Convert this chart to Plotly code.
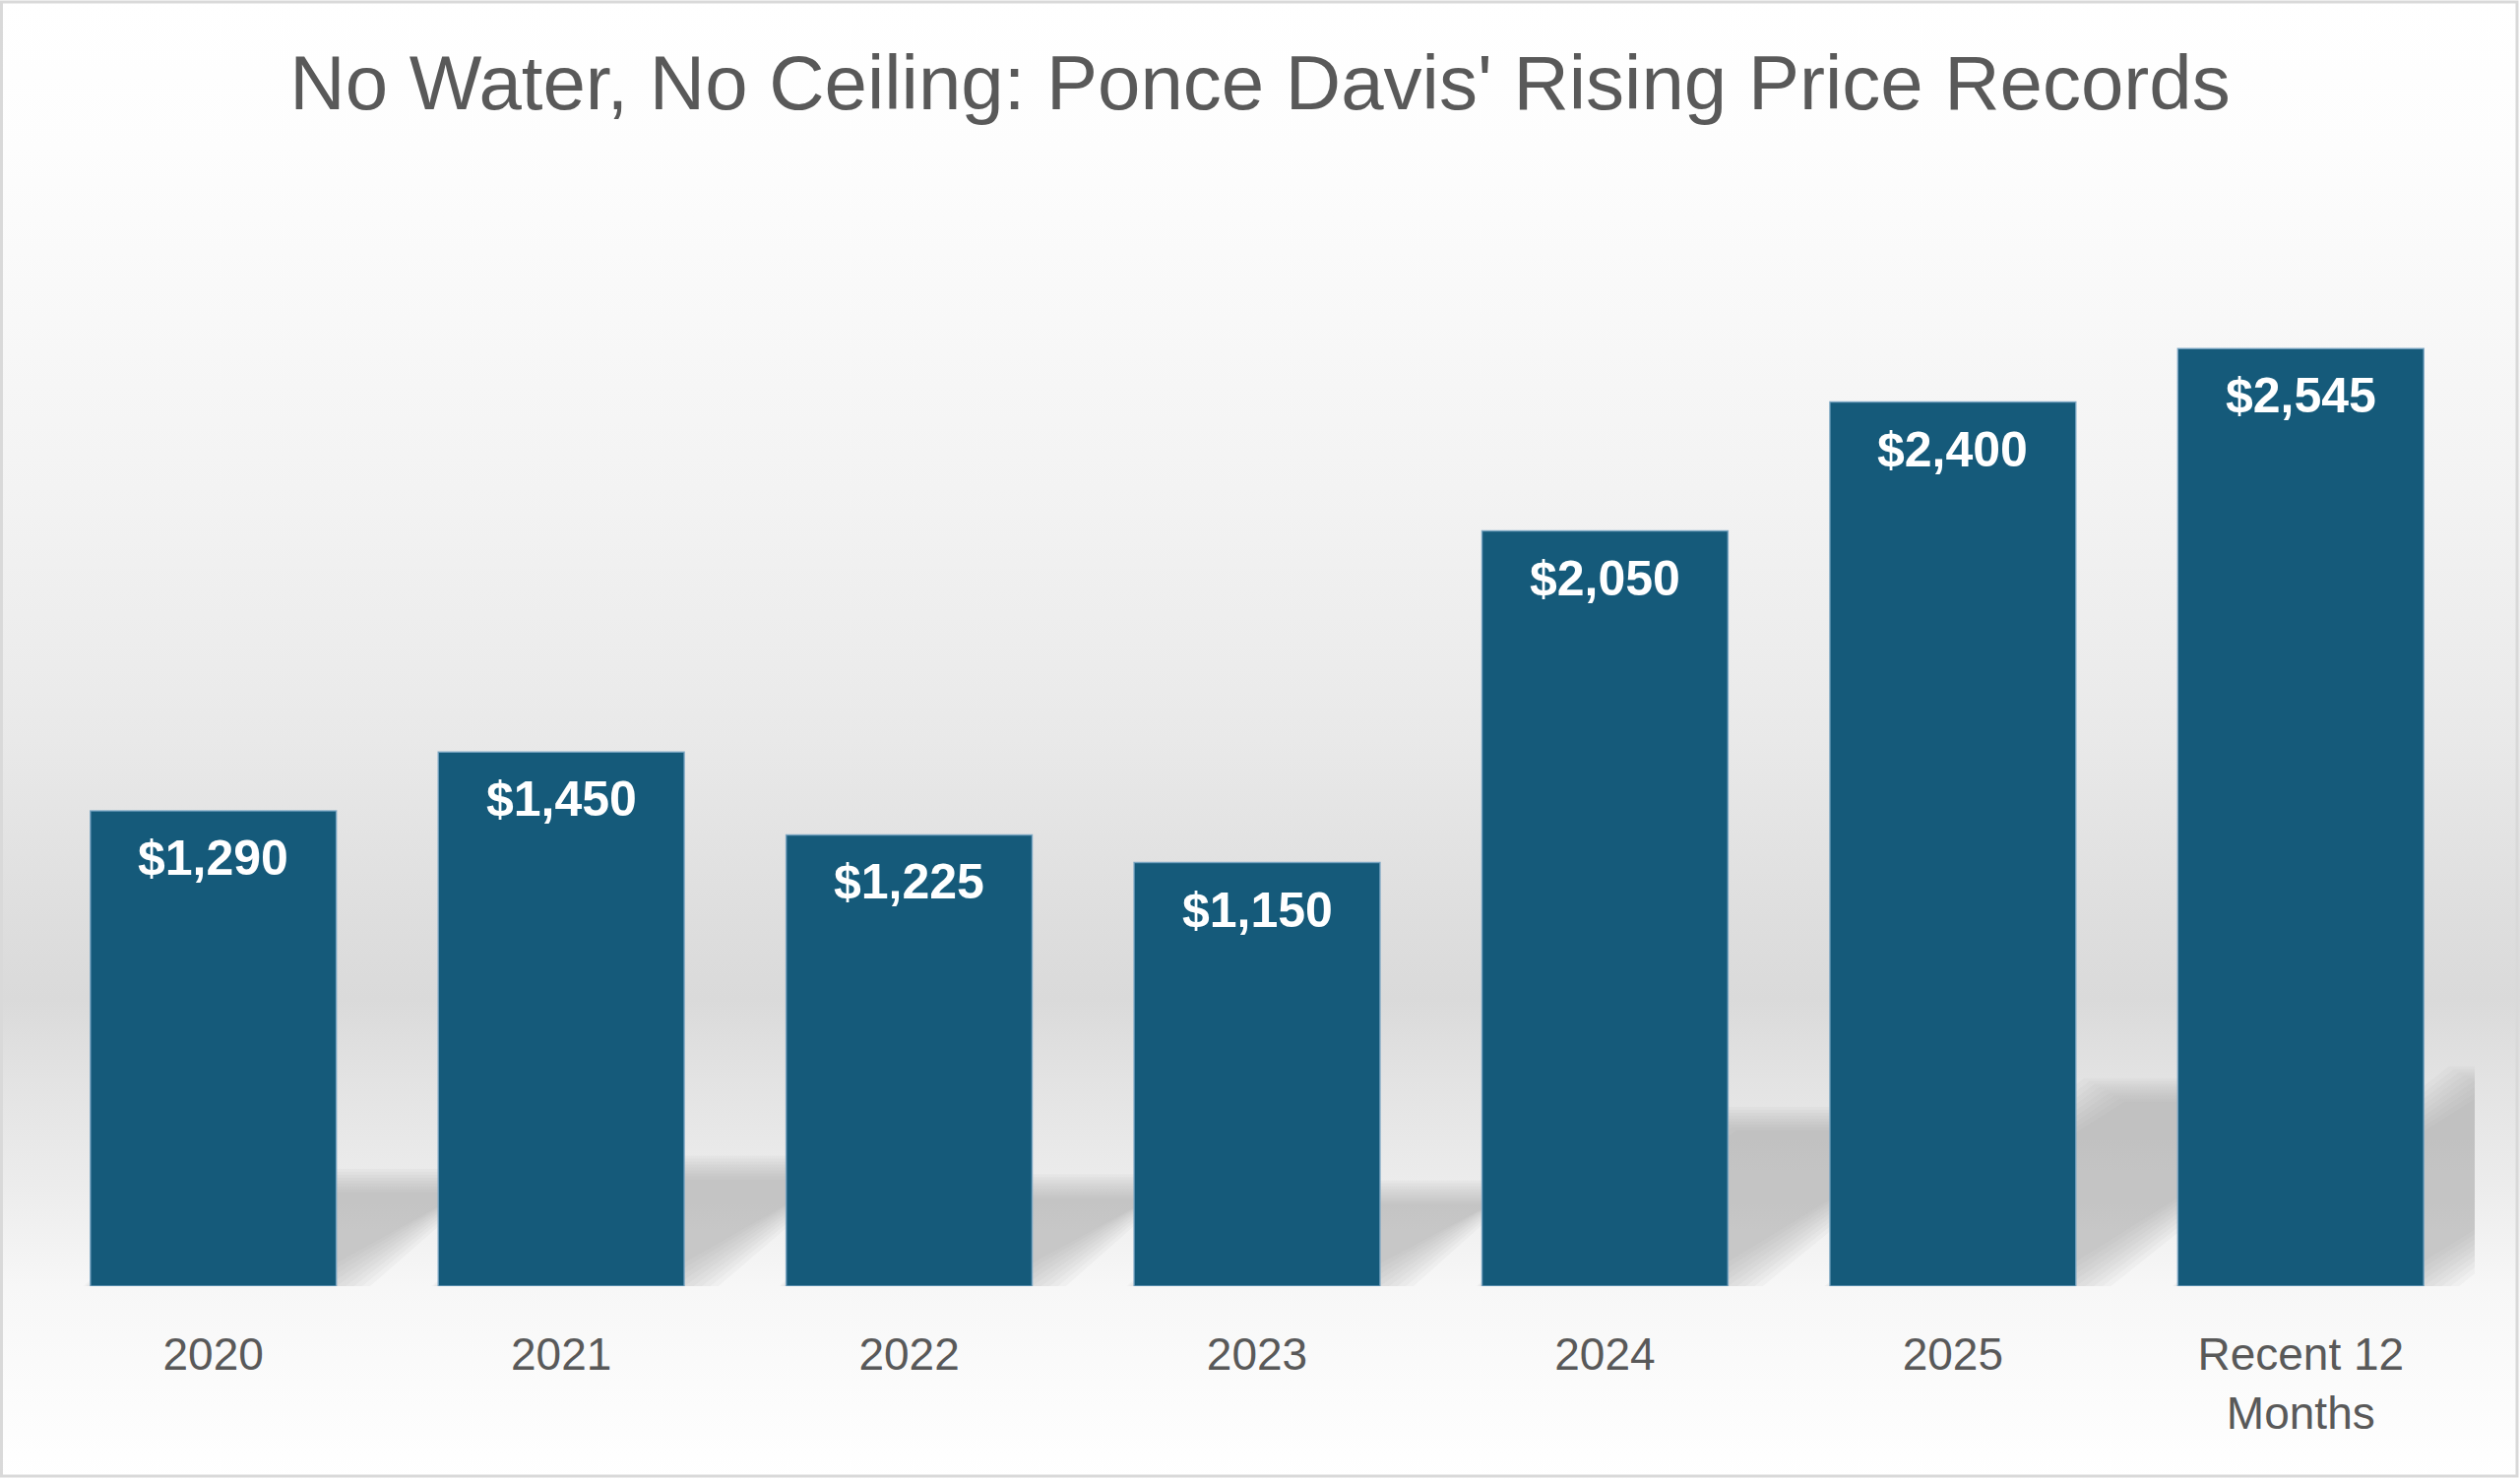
import base64
import plotly.graph_objects as go

# ---------------- data ----------------
categories = ["2020", "2021", "2022", "2023", "2024", "2025", "Recent 12<br>Months"]
prices = [1290, 1450, 1225, 1150, 2050, 2400, 2545]
price_labels = ["$1,290", "$1,450", "$1,225", "$1,150", "$2,050", "$2,400", "$2,545"]
title_text = "No Water, No Ceiling: Ponce Davis' Rising Price Records"

# ---------------- layout constants ----------------
W, H = 2560, 1504
ML, MR, MT, MB = 40, 46, 184, 197
PW, PH = W - ML - MR, H - MT - MB
YMAX = 3000
XPX = PW / len(categories)      # px per category unit
YPX = PH / YMAX                 # px per data unit
BAR_W = 0.707
BAR_COLOR = "#155a7a"
TEXT_GREY = "#595959"

xs = list(range(len(categories)))

fig = go.Figure()
fig.add_trace(go.Bar(
    x=xs, y=prices, width=BAR_W,
    marker=dict(color=BAR_COLOR, line=dict(color="rgba(120,165,195,0.85)", width=1.5)),
    hoverinfo="skip", showlegend=False,
))

# value labels inside bar tops
annotations = []
for x, v, lab in zip(xs, prices, price_labels):
    annotations.append(dict(
        x=x, y=v, xref="x", yref="y", text=lab, showarrow=False,
        yanchor="top", xanchor="center", yshift=-18,
        font=dict(family="Liberation Sans", size=50, color="white", weight="bold"),
    ))

# ---------------- background gradient (image) ----------------
stops = [(0.0, "#ffffff"), (0.10, "#fdfdfd"), (0.33, "#f3f3f3"), (0.50, "#e9e9e9"),
         (0.62, "#dedede"), (0.675, "#dadada"), (0.73, "#e3e3e3"), (0.80, "#ececec"),
         (0.87, "#f7f7f7"), (1.0, "#ffffff")]
stop_svg = "".join(f"<stop offset='{o}' stop-color='{c}'/>" for o, c in stops)
svg = (f"<svg xmlns='http://www.w3.org/2000/svg' width='{W}' height='{H}' viewBox='0 0 {W} {H}' "
       f"preserveAspectRatio='none'><defs><linearGradient id='g' x1='0' y1='0' x2='0' y2='1'>"
       f"{stop_svg}</linearGradient></defs><rect width='{W}' height='{H}' fill='url(#g)'/></svg>")
bg_src = "data:image/svg+xml;base64," + base64.b64encode(svg.encode()).decode()

images = [dict(
    source=bg_src, xref="paper", yref="paper",
    x=-ML / PW, y=1 + MT / PH, sizex=W / PW, sizey=H / PH,
    xanchor="left", yanchor="top", sizing="stretch", layer="below",
)]

# ---------------- cast shadows (derived from bar values) ----------------
SHADOW_K = 0.222      # shadow height relative to bar height
SLOPE = 1.4           # horizontal px per vertical px of shadow
shapes = []
layers = [12, 9, 6, 3, 0, -3, -6, -9, -12]
for x, v in zip(xs, prices):
    hpx = SHADOW_K * v * YPX
    spx = SLOPE * hpx
    xl = x - BAR_W / 2
    xr = x + BAR_W / 2
    for e in layers:
        ex = 1.72 * e / XPX
        ey = e / YPX
        s = spx / XPX
        top = hpx / YPX
        pts = [(xl - ex, -ey), (xr + ex, -ey), (xr + s + ex, top + ey), (xl + s - ex, top + ey)]
        path = "M " + " L ".join(f"{px:.4f},{py:.2f}" for px, py in pts) + " Z"
        shapes.append(dict(type="path", path=path, xref="x", yref="y",
                           fillcolor="rgba(160,160,160,0.076)", line=dict(width=0), layer="below"))

# outer border of chart
shapes.append(dict(type="rect", xref="paper", yref="paper",
                   x0=-ML / PW + 1.5 / PW, x1=1 + MR / PW - 3 / PW,
                   y0=-MB / PH + 4 / PH, y1=1 + MT / PH - 2 / PH,
                   line=dict(color="#d9d9d9", width=3), fillcolor="rgba(0,0,0,0)", layer="above"))

fig.update_layout(
    width=W, height=H,
    margin=dict(l=ML, r=MR, t=MT, b=MB, pad=0),
    paper_bgcolor="white", plot_bgcolor="rgba(0,0,0,0)",
    title=dict(text=title_text, x=0.5, xanchor="center", xref="container",
               y=1 - 84 / H, yanchor="middle", yref="container",
               font=dict(family="Liberation Sans", size=78, color=TEXT_GREY)),
    xaxis=dict(range=[-0.5, len(categories) - 0.5], tickvals=xs, ticktext=categories,
               showgrid=False, zeroline=False, showline=False, ticks="",
               ticklabelstandoff=38,
               tickfont=dict(family="Liberation Sans", size=46, color=TEXT_GREY),
               fixedrange=True),
    yaxis=dict(range=[0, YMAX], visible=False, showgrid=False, zeroline=False, fixedrange=True),
    annotations=annotations, shapes=shapes, images=images,
    bargap=0.293, showlegend=False,
)

fig.write_html("out.html")
